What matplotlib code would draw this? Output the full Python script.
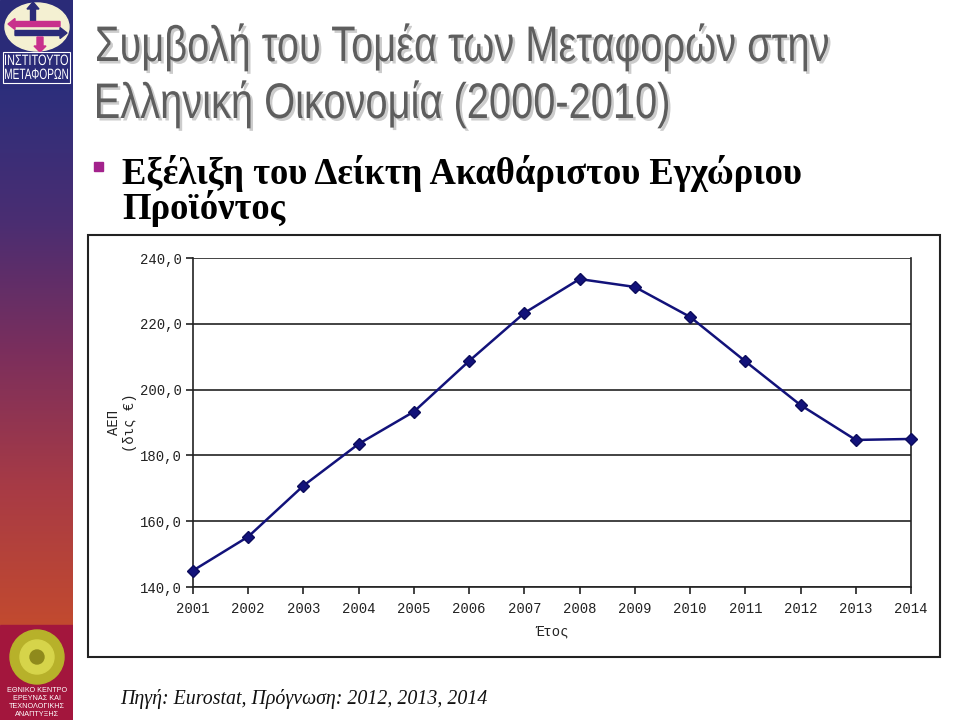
import matplotlib
matplotlib.use("Agg")
import matplotlib.pyplot as plt
import numpy as np
from matplotlib.colors import LinearSegmentedColormap
from matplotlib.font_manager import FontProperties
from matplotlib.patches import Rectangle, Ellipse, Circle, FancyArrow, PathPatch
from matplotlib.textpath import TextPath
from matplotlib.transforms import Affine2D

# ---- data -------------------------------------------------------------
years = [2001, 2002, 2003, 2004, 2005, 2006, 2007,
         2008, 2009, 2010, 2011, 2012, 2013, 2014]
gdp = [145.0, 155.3, 170.8, 183.5, 193.3, 208.7, 223.3,
       233.6, 231.2, 222.1, 208.6, 195.3, 184.7, 185.0]
yticks = [140, 160, 180, 200, 220, 240]

title_1 = "Συμβολή του Τομέα των Μεταφορών στην"
title_2 = "Ελληνική Οικονομία (2000-2010)"
bullet_1 = "Εξέλιξη του Δείκτη Ακαθάριστου Εγχώριου"
bullet_2 = "Προϊόντος"
source_text = "Πηγή: Eurostat, Πρόγνωση: 2012, 2013, 2014"

W, H = 959, 720
fig = plt.figure(figsize=(W / 100, H / 100), dpi=100)
fig.patch.set_facecolor("white")


def fx(px):
    return px / W


def fy(py):
    return 1 - py / H


# overlay in pixel units (y up) for condensed text drawn as paths
over = fig.add_axes([0, 0, 1, 1], zorder=5)
over.set_xlim(0, W)
over.set_ylim(0, H)
over.axis("off")
over.patch.set_alpha(0)


def narrow_text(x, baseline, s, size, sx, color, prop, shadow=False, z=6):
    tp = TextPath((0, 0), s, size=size, prop=prop)
    x0 = tp.get_extents().x0
    if shadow:
        tr = Affine2D().translate(-x0, 0).scale(sx, 1).translate(x + 2.5, H - baseline - 2.5)
        over.add_patch(PathPatch(tr.transform_path(tp), fc="#000000",
                                 ec="none", alpha=0.2, zorder=z - 1))
    tr = Affine2D().translate(-x0, 0).scale(sx, 1).translate(x, H - baseline)
    over.add_patch(PathPatch(tr.transform_path(tp), fc=color, ec="none", zorder=z))


def text_width(s, size, prop):
    return TextPath((0, 0), s, size=size, prop=prop).get_extents().width


sans = FontProperties(family="Liberation Sans")

# ---- left sidebar -----------------------------------------------------
side = fig.add_axes([0, 0, fx(73), 1])
side.set_xlim(0, 73)
side.set_ylim(H, 0)
side.axis("off")
cmap = LinearSegmentedColormap.from_list(
    "side", ["#2c2f7c", "#4a2d72", "#7c2f5c", "#a83b45", "#c24a2f"])
grad = np.linspace(0, 1, 256).reshape(-1, 1)
side.imshow(grad, cmap=cmap, aspect="auto", extent=[0, 73, 625, 85], zorder=0)
side.add_patch(Rectangle((0, 0), 73, 88, color="#2a2b78", zorder=1))
side.add_patch(Rectangle((0, 625), 73, 95, color="#a3163d", zorder=1))

# transport institute logo
side.add_patch(Ellipse((37, 27), 64, 48, color="#f4f0d2", zorder=2))
side.add_patch(FancyArrow(33, 21, 0, -12, width=5, head_width=12,
                          head_length=7, color="#2a2b78", zorder=3))
side.add_patch(FancyArrow(60, 24, -45, 0, width=5, head_width=11,
                          head_length=7, color="#c8308c", zorder=3))
side.add_patch(FancyArrow(15, 33, 45, 0, width=5, head_width=11,
                          head_length=7, color="#2a2b78", zorder=3))
side.add_patch(FancyArrow(40, 37, 0, 9, width=6, head_width=12,
                          head_length=6, color="#c8308c", zorder=3))
side.add_patch(Rectangle((3, 52), 67, 31, fill=False, ec="white", lw=0.8, zorder=3))
for txt, base in [("ΙΝΣΤΙΤΟΥΤΟ", 65), ("ΜΕΤΑΦΟΡΩΝ", 79)]:
    sz = 15
    narrow_text(5, base, txt, sz, 63 / text_width(txt, sz, sans), "white", sans)

# research centre logo
side.add_patch(Circle((37, 657), 27, color="#b7b12a", zorder=2))
side.add_patch(Circle((37, 657), 17, color="#d6d44a", zorder=3))
side.add_patch(Circle((37, 657), 7, color="#8f8a1c", zorder=4))
for i, line in enumerate(["ΕΘΝΙΚΟ ΚΕΝΤΡΟ", "ΕΡΕΥΝΑΣ ΚΑΙ",
                          "ΤΕΧΝΟΛΟΓΙΚΗΣ", "ΑΝΑΠΤΥΞΗΣ"]):
    side.text(37, 690 + 8 * i, line, color="white", fontsize=5.2,
              ha="center", va="center", family="Liberation Sans", zorder=4)

# ---- slide texts ------------------------------------------------------
tsize = 50
tsx = 731 / text_width(title_1, tsize, sans)
narrow_text(97, 61, title_1, tsize, tsx, "#5e5e5e", sans, shadow=True)
narrow_text(97, 118, title_2, tsize, tsx, "#5e5e5e", sans, shadow=True)

fig.add_artist(Rectangle((fx(94), fy(171)), fx(9), 9 / H,
                         transform=fig.transFigure, color="#a3228c"))
fig.text(fx(122), fy(184), bullet_1, fontsize=26.4, fontweight="bold",
         family="Liberation Serif", color="black", ha="left", va="baseline")
fig.text(fx(122), fy(219), bullet_2, fontsize=26.4, fontweight="bold",
         family="Liberation Serif", color="black", ha="left", va="baseline")

fig.text(fx(120), fy(704), source_text, fontsize=14.3, style="italic",
         family="Liberation Serif", color="#111111", ha="left", va="baseline")

# chart frame
fig.add_artist(Rectangle((fx(88), fy(657)), fx(852), (657 - 235) / H,
                         transform=fig.transFigure, fill=False,
                         ec="#222222", lw=1.5))

# ---- chart ------------------------------------------------------------
ax = fig.add_axes([fx(193), fy(587), fx(911 - 193), (587 - 258) / H])
ax.plot(years, gdp, color="#12127a", lw=1.8, marker="D", markersize=6.5,
        markerfacecolor="#12127a", markeredgecolor="#0c0c5c", clip_on=False,
        zorder=3)
ax.set_xlim(2001, 2014)
ax.set_ylim(140, 240)
ax.set_xticks(years)
ax.set_yticks(yticks)
ax.set_yticklabels([f"{v:.1f}".replace(".", ",") for v in yticks])
ax.grid(axis="y", color="#222222", lw=1.2)
ax.spines["top"].set_visible(False)
for s in ["left", "bottom", "right"]:
    ax.spines[s].set_linewidth(1.2)
    ax.spines[s].set_color("#222222")
ax.tick_params(axis="both", length=5, width=1.2, color="#222222",
               labelsize=10, labelcolor="#222222")
ax.tick_params(axis="y", pad=3)
ax.tick_params(axis="x", pad=6)
for lbl in ax.get_xticklabels() + ax.get_yticklabels():
    lbl.set_family("Liberation Mono")
ax.set_xlabel("Έτος", family="Liberation Mono", fontsize=10,
              color="#222222", labelpad=6)
ax.set_ylabel("ΑΕΠ\n(δις €)", family="Liberation Mono", fontsize=10,
              color="#222222", labelpad=2)
ax.set_axisbelow(True)

fig.savefig("out.png", dpi=100, facecolor="white")
